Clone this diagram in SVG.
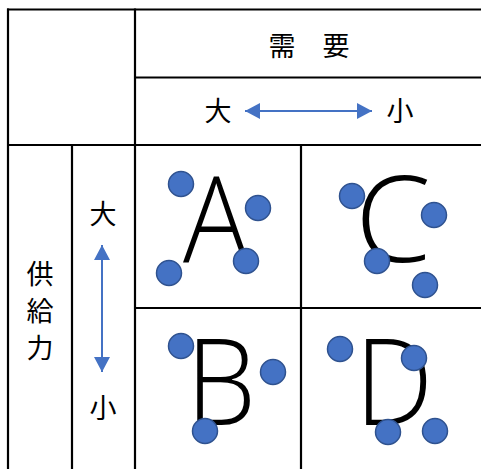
<svg xmlns="http://www.w3.org/2000/svg" width="481" height="469" viewBox="0 0 481 469">
<defs>
<style>
.grid{stroke:#000;stroke-width:2.2;fill:none}
.jp{font-family:"Noto Sans CJK JP","Noto Sans CJK SC",sans-serif;font-size:27px;fill:#000;text-anchor:middle}
.big{font-family:"Open Sans","Noto Sans",sans-serif;font-weight:300;font-size:120px;fill:#000;text-anchor:middle}
.dot{fill:#4472C4;stroke:#2F528F;stroke-width:1.5}
.arr{stroke:#4472C4;stroke-width:2;fill:none}
</style>
<marker id="ah" viewBox="0 0 15 16" refX="15" refY="8" markerWidth="15" markerHeight="16" markerUnits="userSpaceOnUse" orient="auto-start-reverse">
<path d="M0,0 L15,8 L0,16 Z" fill="#4472C4"/>
</marker>
</defs>
<rect width="481" height="469" fill="#fff"/>
<g id="grid" class="grid">
<line x1="7" y1="9.5" x2="481" y2="9.5"/>
<line x1="135" y1="77.5" x2="481" y2="77.5"/>
<line x1="7" y1="145" x2="481" y2="145"/>
<line x1="135" y1="308" x2="481" y2="308"/>
<line x1="8" y1="8.5" x2="8" y2="469"/>
<line x1="72" y1="145" x2="72" y2="469"/>
<line x1="135" y1="8.5" x2="135" y2="469"/>
<line x1="301" y1="145" x2="301" y2="469"/>
</g>
<g id="header-demand">
<text class="jp" x="309" y="56">需　要</text>
<text class="jp" x="218" y="121">大</text>
<text class="jp" x="400" y="121">小</text>
</g>
<g id="header-supply">
<text class="jp" x="40" y="284">供</text>
<text class="jp" x="40" y="321">給</text>
<text class="jp" x="40" y="358">力</text>
<text class="jp" x="103" y="224">大</text>
<text class="jp" x="103" y="418">小</text>
</g>
<g id="connectors">
<line class="arr" x1="245" y1="111" x2="372" y2="111" marker-start="url(#ah)" marker-end="url(#ah)"/>
<line class="arr" x1="102" y1="245" x2="102" y2="372" marker-start="url(#ah)" marker-end="url(#ah)"/>
</g>
<g id="cell-A">
<text class="big" x="216" y="262" textLength="66" lengthAdjust="spacingAndGlyphs">A</text>
<circle class="dot" cx="181" cy="184" r="12.5"/>
<circle class="dot" cx="258" cy="208" r="12.5"/>
<circle class="dot" cx="169" cy="273" r="12.5"/>
<circle class="dot" cx="246" cy="261" r="12.5"/>
</g>
<g id="cell-C">
<text class="big" x="393" y="262" textLength="76" lengthAdjust="spacingAndGlyphs">C</text>
<circle class="dot" cx="352" cy="196" r="12.5"/>
<circle class="dot" cx="434" cy="215" r="12.5"/>
<circle class="dot" cx="377" cy="261" r="12.5"/>
<circle class="dot" cx="425" cy="285" r="12.5"/>
</g>
<g id="cell-B">
<text class="big" x="221" y="425" textLength="70" lengthAdjust="spacingAndGlyphs">B</text>
<circle class="dot" cx="181" cy="346" r="12.5"/>
<circle class="dot" cx="273" cy="372" r="12.5"/>
<circle class="dot" cx="205" cy="431" r="12.5"/>
</g>
<g id="cell-D">
<text class="big" x="394" y="425" textLength="78" lengthAdjust="spacingAndGlyphs">D</text>
<circle class="dot" cx="340" cy="349" r="12.5"/>
<circle class="dot" cx="414" cy="358" r="12.5"/>
<circle class="dot" cx="388" cy="432" r="12.5"/>
<circle class="dot" cx="435" cy="431" r="12.5"/>
</g>
</svg>
